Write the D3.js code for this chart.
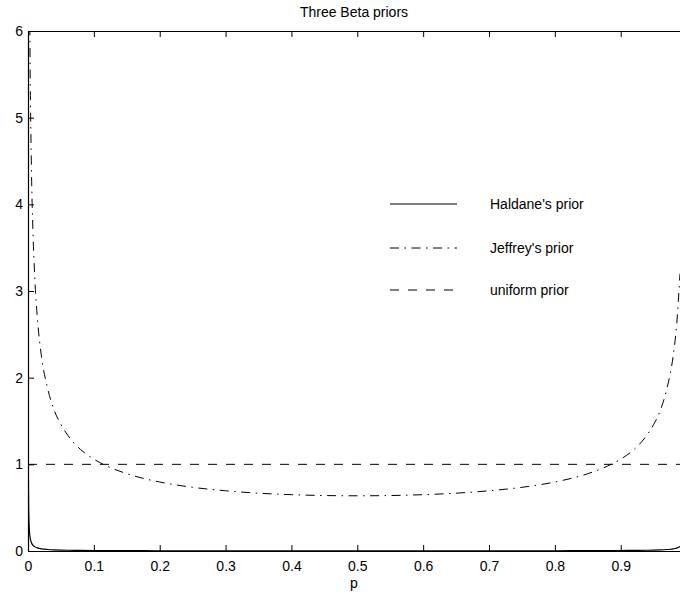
<!DOCTYPE html>
<html>
<head>
<meta charset="utf-8">
<script src="https://cdn.jsdelivr.net/npm/d3@7"></script>
<style>
  body { margin: 0; background: #fff; }
  svg { display: block; font-family: "Liberation Sans", Arial, Helvetica, sans-serif; }
</style>
</head>
<body>
<svg id="chart" width="680" height="592"></svg>
<script>
// ---- data ----
const title = "Three Beta priors";
const xLabel = "p";
const xTicks = [0, 0.1, 0.2, 0.3, 0.4, 0.5, 0.6, 0.7, 0.8, 0.9];
const yTicks = [0, 1, 2, 3, 4, 5, 6];
const seriesNames = ["Haldane's prior", "Jeffrey's prior", "uniform prior"];

const pGrid = [0.00005, 0.0001, 0.0002, 0.0005, 0.001, 0.002, 0.003, 0.005, 0.0075, 0.01,
  0.015, 0.02, 0.03, 0.04, 0.05, 0.06, 0.08, 0.1, 0.12, 0.15, 0.2, 0.25, 0.3, 0.35,
  0.4, 0.45, 0.5, 0.55, 0.6, 0.65, 0.7, 0.75, 0.8, 0.85, 0.88, 0.9, 0.92, 0.94,
  0.95, 0.96, 0.97, 0.975, 0.98, 0.985, 0.99];

const haldane = [10.0, 5.0, 2.50, 1.00, 0.500, 0.251, 0.167, 0.1005, 0.0672, 0.0505,
  0.0338, 0.0255, 0.0172, 0.0130, 0.0105, 0.0089, 0.0068, 0.0056, 0.0047, 0.0039, 0.0031, 0.0027, 0.0024, 0.0022,
  0.0021, 0.0020, 0.0020, 0.0020, 0.0021, 0.0022, 0.0024, 0.0027, 0.0031, 0.0039, 0.0047, 0.0056, 0.0068, 0.0089,
  0.0105, 0.0130, 0.0172, 0.0205, 0.0255, 0.0338, 0.0505];

const jeffrey = [45.0, 31.8, 22.5, 14.2, 10.07, 7.13, 5.82, 4.51, 3.69, 3.20,
  2.62, 2.27, 1.87, 1.62, 1.46, 1.34, 1.17, 1.06, 0.980, 0.892, 0.796, 0.735, 0.695, 0.667,
  0.650, 0.640, 0.637, 0.640, 0.650, 0.667, 0.695, 0.735, 0.796, 0.892, 0.980, 1.06, 1.17, 1.34,
  1.46, 1.62, 1.87, 2.04, 2.27, 2.62, 3.20];

const uniformP = [0, 0.99];
const uniform = [1, 1];

// ---- layout ----
const svg = d3.select("#chart");
const mLeft = 28, mRight = 680, mTop = 31, mBottom = 551;
const x = d3.scaleLinear().domain([0, 0.99]).range([mLeft, mRight]);
const y = d3.scaleLinear().domain([0, 6]).range([mBottom, mTop]);
const fs = 14;

svg.append("defs").append("clipPath").attr("id", "clip")
  .append("rect").attr("x", mLeft).attr("y", mTop).attr("width", mRight - mLeft).attr("height", mBottom - mTop);

// axes (MATLAB-like box with inward ticks)
const gx = svg.append("g").attr("transform", `translate(0,${mBottom})`)
  .call(d3.axisBottom(x).tickValues(xTicks).tickFormat(d3.format("")).tickSizeInner(-6).tickSizeOuter(0).tickPadding(10));
const gxTop = svg.append("g").attr("transform", `translate(0,${mTop})`)
  .call(d3.axisTop(x).tickValues(xTicks).tickFormat("").tickSizeInner(-6).tickSizeOuter(0));
const gy = svg.append("g").attr("transform", `translate(${mLeft},0)`)
  .call(d3.axisLeft(y).tickValues(yTicks).tickFormat(d3.format("d")).tickSizeInner(-6).tickSizeOuter(0).tickPadding(5));

[gx, gxTop, gy].forEach(g => {
  g.selectAll(".domain").attr("stroke", "#000").attr("stroke-width", 1.2);
  g.selectAll(".tick line").attr("stroke", "#000").attr("stroke-width", 1);
  g.selectAll("text").attr("font-size", fs).attr("fill", "#000")
    .attr("font-family", "'Liberation Sans', Arial, sans-serif");
});

// lines
const plot = svg.append("g").attr("clip-path", "url(#clip)");
const line = d3.line().x(d => x(d[0])).y(d => y(d[1]));

plot.append("path").datum(uniformP.map((p, i) => [p, uniform[i]]))
  .attr("d", line).attr("fill", "none").attr("stroke", "#000").attr("stroke-width", 1)
  .attr("stroke-dasharray", "9,9");
plot.append("path").datum(pGrid.map((p, i) => [p, jeffrey[i]]))
  .attr("d", d3.line().x(d => x(d[0])).y(d => y(d[1])).curve(d3.curveMonotoneX))
  .attr("fill", "none").attr("stroke", "#000").attr("stroke-width", 1)
  .attr("stroke-dasharray", "9,5.5,1.5,5.5");
plot.append("path").datum(pGrid.map((p, i) => [p, haldane[i]]))
  .attr("d", d3.line().x(d => x(d[0])).y(d => y(d[1])).curve(d3.curveMonotoneX))
  .attr("fill", "none").attr("stroke", "#000").attr("stroke-width", 1.2);

// title & label
svg.append("text").attr("x", (mLeft + mRight) / 2).attr("y", 17).attr("text-anchor", "middle")
  .attr("font-size", fs).text(title);
svg.append("text").attr("x", (mLeft + mRight) / 2).attr("y", 588).attr("text-anchor", "middle")
  .attr("font-size", fs).text(xLabel);

// legend
const legY = [204, 248, 290];
const dashes = [null, "9,5.5,1.5,5.5", "9,9"];
seriesNames.forEach((name, i) => {
  svg.append("line").attr("x1", 390).attr("x2", 457).attr("y1", legY[i]).attr("y2", legY[i])
    .attr("stroke", "#000").attr("stroke-width", i === 0 ? 1.2 : 1)
    .attr("stroke-dasharray", dashes[i]);
  svg.append("text").attr("x", 490).attr("y", legY[i] + 5).attr("font-size", fs).text(name);
});
</script>
</body>
</html>
